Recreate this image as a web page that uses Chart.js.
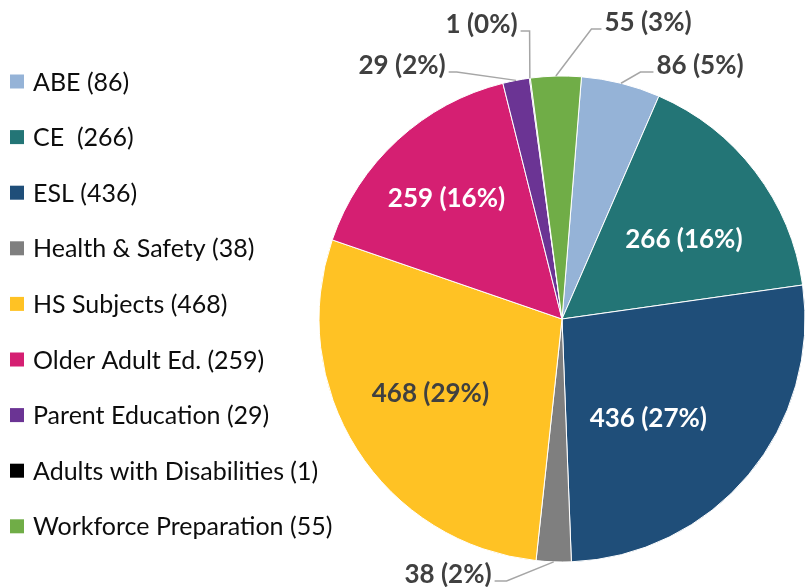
<!DOCTYPE html>
<html>
<head>
<meta charset="utf-8">
<script src="https://cdn.jsdelivr.net/npm/chart.js@4.4.0/dist/chart.umd.min.js"></script>
<style>
html,body{margin:0;padding:0;background:#ffffff;}
#wrap{width:811px;height:587px;position:relative;}
</style>
</head>
<body>
<div id="wrap"><canvas id="c"></canvas></div>
<script>
// ---- data ----
const categories = ['ABE', 'CE ', 'ESL', 'Health & Safety', 'HS Subjects', 'Older Adult Ed.', 'Parent Education', 'Adults with Disabilities', 'Workforce Preparation'];
const values = [86, 266, 436, 38, 468, 259, 29, 1, 55];
const colors = ['#95B3D7', '#237576', '#1F4E79', '#7F7F7F', '#FFC224', '#D51F72', '#6B3494', '#000000', '#70AD47'];

// ---- label placement (style, not data) ----
// inside: angle offset from slice middle (deg), distance as fraction of radius
// outside: text centre relative to pie centre in radius units, horizontal leader length (px)
const labelPlacement = [
  {type: 'out', tx: 0.568, ty: -1.045, side: 'right', hlen: 13},
  {type: 'in', off: 4, frac: 0.60, color: '#ffffff'},
  {type: 'in', off: 9, frac: 0.54, color: '#ffffff'},
  {type: 'out', tx: -0.469, ty: 1.049, side: 'left', hlen: 12},
  {type: 'in', off: 3.3, frac: 0.62, color: '#404040'},
  {type: 'in', off: -1, frac: 0.69, color: '#ffffff'},
  {type: 'out', tx: -0.658, ty: -1.045, side: 'left', hlen: 8},
  {type: 'out', tx: -0.331, ty: -1.214, side: 'left', hlen: 9},
  {type: 'out', tx: 0.354, ty: -1.222, side: 'right', hlen: 10}
];

const total = values.reduce((a, b) => a + b, 0);
const legendLabels = categories.map((c, i) => c + ' (' + values[i] + ')');
const dataLabels = values.map(v => v + ' (' + Math.round(v / total * 100) + '%)');

const sideLegend = {
  id: 'sideLegend',
  afterDraw(chart, args, o) {
    const ctx = chart.ctx;
    ctx.save();
    ctx.font = o.font;
    ctx.textBaseline = 'middle';
    ctx.textAlign = 'left';
    legendLabels.forEach((t, i) => {
      const y = o.top + i * o.step;
      ctx.fillStyle = colors[i];
      ctx.fillRect(o.boxX, y - o.box / 2, o.box, o.box);
      ctx.fillStyle = o.color;
      ctx.fillText(t, o.textX, y + 1);
    });
    ctx.restore();
  }
};

const sliceLabels = {
  id: 'sliceLabels',
  afterDatasetsDraw(chart, args, o) {
    const ctx = chart.ctx;
    const meta = chart.getDatasetMeta(0);
    ctx.save();
    ctx.font = o.font;
    ctx.textBaseline = 'middle';
    ctx.textAlign = 'center';
    meta.data.forEach((arc, i) => {
      const p = arc.getProps(['x', 'y', 'startAngle', 'endAngle', 'outerRadius'], true);
      const mid = (p.startAngle + p.endAngle) / 2;
      const R = p.outerRadius;
      const spec = labelPlacement[i];
      const text = dataLabels[i];
      if (spec.type === 'in') {
        const a = mid + spec.off * Math.PI / 180;
        const lx = p.x + Math.cos(a) * R * spec.frac;
        const ly = p.y + Math.sin(a) * R * spec.frac;
        ctx.fillStyle = spec.color;
        ctx.fillText(text, lx, ly + 1);
      } else {
        const cx = p.x + spec.tx * R;
        const cy = p.y + spec.ty * R;
        const w = ctx.measureText(text).width;
        const ex = p.x + Math.cos(mid) * R;
        const ey = p.y + Math.sin(mid) * R;
        const lineY = cy + 7;
        let tEdge, elbow;
        if (spec.side === 'left') {
          tEdge = cx + w / 2 + 3;
          elbow = tEdge + spec.hlen;
        } else {
          tEdge = cx - w / 2 - 3;
          elbow = tEdge - spec.hlen;
        }
        ctx.strokeStyle = o.lineColor;
        ctx.lineWidth = 1.5;
        ctx.beginPath();
        ctx.moveTo(ex, ey);
        ctx.lineTo(elbow, lineY);
        ctx.lineTo(tEdge, lineY);
        ctx.stroke();
        ctx.fillStyle = o.outColor;
        ctx.fillText(text, cx, cy + 1);
      }
    });
    ctx.restore();
  }
};

new Chart(document.getElementById('c'), {
  type: 'pie',
  data: {
    labels: categories,
    datasets: [{
      data: values,
      backgroundColor: colors,
      borderColor: '#ffffff',
      borderWidth: 1
    }]
  },
  options: {
    responsive: true,
    maintainAspectRatio: false,
    animation: false,
    events: [],
    rotation: 4.6,
    radius: 243,
    layout: {padding: {left: 313, right: 0, top: 51, bottom: 0}},
    plugins: {
      legend: {display: false},
      tooltip: {enabled: false},
      sideLegend: {font: '25px Lato', color: '#0d0d0d', top: 81.5, step: 55.6, boxX: 10, box: 14, textX: 33},
      sliceLabels: {font: 'bold 26px Lato', outColor: '#404040', lineColor: '#A6A6A6'}
    }
  },
  plugins: [sideLegend, sliceLabels]
});
</script>
</body>
</html>
